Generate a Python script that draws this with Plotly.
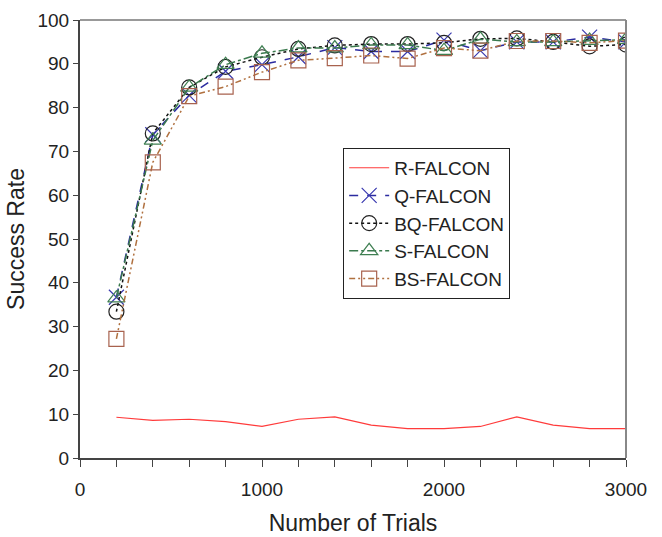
import plotly.graph_objects as go

trials = [200, 400, 600, 800, 1000, 1200, 1400, 1600, 1800, 2000, 2200, 2400, 2600, 2800, 3000]
r_falcon = [9.3, 8.6, 8.85, 8.3, 7.2, 8.85, 9.4, 7.5, 6.7, 6.7, 7.2, 9.4, 7.5, 6.7, 6.7]
q_falcon = [36.7, 73.8, 82.8, 88.3, 89.8, 91.6, 93.7, 92.8, 92.8, 95.4, 93.0, 95.0, 95.0, 96.1, 95.0]
bq_falcon = [33.4, 74.1, 84.6, 89.3, 91.5, 93.4, 94.2, 94.5, 94.5, 94.8, 95.7, 95.8, 95.0, 94.0, 94.4]
s_falcon = [36.5, 72.5, 84.6, 89.8, 92.4, 93.6, 93.6, 94.3, 94.3, 93.0, 95.6, 95.0, 95.0, 95.3, 95.5]
bs_falcon = [27.2, 67.5, 82.6, 84.8, 88.1, 90.8, 91.3, 91.9, 91.2, 93.6, 93.0, 95.2, 95.2, 94.8, 95.3]

series = [
    ("R-FALCON", r_falcon, "#ff3b3b", "solid", None, "#ff3b3b"),
    ("Q-FALCON", q_falcon, "#2b2ba0", "dash", "x-thin-open", "#3a3ab0"),
    ("BQ-FALCON", bq_falcon, "#111111", "dot", "circle-open", "#222222"),
    ("S-FALCON", s_falcon, "#3b7a4e", "dashdot", "triangle-up-open", "#3f7f52"),
    ("BS-FALCON", bs_falcon, "#b0703f", "6px,3px,2px,3px,2px,3px", "square-open", "#a8624e"),
]

fig = go.Figure()
for i, (name, vals, color, dash, sym, mcol) in enumerate(series):
    if sym is None:
        fig.add_trace(go.Scatter(x=trials, y=vals, name=name, mode="lines",
                                 line=dict(color=color, width=1.2, dash=dash),
                                 legendgroup=f"g{i}"))
    else:
        fig.add_trace(go.Scatter(x=trials, y=vals, name=name, mode="lines+markers",
                                 line=dict(color=color, width=1.5, dash=dash),
                                 marker=dict(symbol=sym, size=15, color=mcol,
                                             line=dict(color=mcol, width=1.2)),
                                 legendgroup=f"g{i}"))

font_family = "Liberation Sans, Arial, sans-serif"
fig.update_layout(
    width=662, height=537,
    margin=dict(l=80, r=36, t=20, b=79),
    paper_bgcolor="white", plot_bgcolor="white",
    font=dict(family=font_family, size=19, color="#222222"),
    showlegend=True,
    legend=dict(x=0.482, y=0.708, xanchor="left", yanchor="top",
                bgcolor="white", bordercolor="#222222", borderwidth=1,
                font=dict(size=19, color="#222222"), tracegroupgap=0,
                itemwidth=40),
    xaxis=dict(range=[0, 3000], dtick=1000, tick0=0, ticks="outside", ticklen=7,
               tickcolor="#444444", showline=True, linecolor="#444444", linewidth=2,
               showgrid=False, zeroline=False, ticklabelstandoff=6, automargin=False,
               minor=dict(dtick=200, ticks="outside", ticklen=7, tickcolor="#444444"),
               title=dict(text="Number of Trials", standoff=16)),
    yaxis=dict(range=[0, 100], dtick=10, ticks="outside", ticklen=5,
               tickcolor="#444444", showline=True, linecolor="#444444", linewidth=2,
               showgrid=False, zeroline=False, automargin=False,
               title=dict(text="Success Rate", standoff=6)),
)
# top and right frame lines (lighter gray)
fig.add_shape(type="line", xref="paper", yref="paper", x0=0, x1=1, y0=1, y1=1,
              line=dict(color="#999999", width=2))
fig.add_shape(type="line", xref="paper", yref="paper", x0=1, x1=1, y0=0, y1=1,
              line=dict(color="#888888", width=2))

fig.write_html("out.html")
